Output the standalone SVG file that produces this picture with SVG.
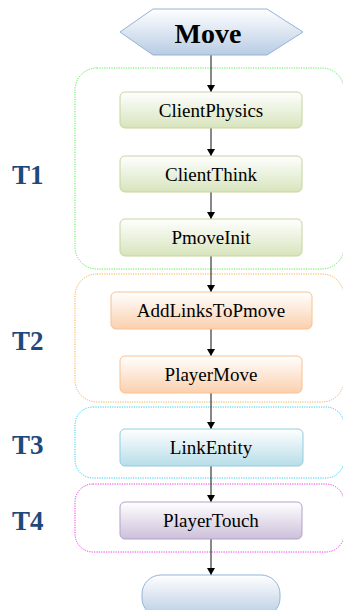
<svg xmlns="http://www.w3.org/2000/svg" width="343" height="610" viewBox="0 0 343 610">
<defs>
<linearGradient id="gBlue" x1="0" y1="0" x2="0" y2="1"><stop offset="0" stop-color="#ffffff"/><stop offset="1" stop-color="#b8cce4"/></linearGradient>
<linearGradient id="gGreen" x1="0" y1="0" x2="0" y2="1"><stop offset="0" stop-color="#ffffff"/><stop offset="1" stop-color="#d7e4bc"/></linearGradient>
<linearGradient id="gOrange" x1="0" y1="0" x2="0" y2="1"><stop offset="0" stop-color="#ffffff"/><stop offset="1" stop-color="#fbd0ad"/></linearGradient>
<linearGradient id="gCyan" x1="0" y1="0" x2="0" y2="1"><stop offset="0" stop-color="#ffffff"/><stop offset="1" stop-color="#b7dde8"/></linearGradient>
<linearGradient id="gPurple" x1="0" y1="0" x2="0" y2="1"><stop offset="0" stop-color="#ffffff"/><stop offset="1" stop-color="#ccc0da"/></linearGradient>
<marker id="arr" markerWidth="8" markerHeight="8" refX="7" refY="4" orient="auto" markerUnits="userSpaceOnUse"><path d="M0,0 L7,4 L0,8 Z" fill="#000"/></marker>
</defs>
<style>
.grp{fill:none;stroke-width:1;stroke-dasharray:1.2,1.2}
.box{stroke-width:1}
.lbl{font-family:'Liberation Serif','Times New Roman',serif;font-size:19px;fill:#000;text-anchor:middle}
.tl{font-family:'Liberation Serif','Times New Roman',serif;font-size:27px;font-weight:bold;fill:#1f497d}
.conn{stroke:#111;stroke-width:1;fill:none;marker-end:url(#arr)}
</style>
<g id="groups">
<rect id="grpT1" class="grp" x="75" y="68" width="269" height="201" rx="22" stroke="#55ee55"/>
<rect id="grpT2" class="grp" x="75" y="274" width="269" height="128" rx="22" stroke="#f9b040"/>
<rect id="grpT3" class="grp" x="75" y="407" width="269" height="71" rx="18" stroke="#33ccee"/>
<rect id="grpT4" class="grp" x="75" y="484" width="269" height="68" rx="18" stroke="#ee33ee"/>
</g>
<g id="tlabels">
<text class="tl" x="12" y="184">T1</text>
<text class="tl" x="12" y="350">T2</text>
<text class="tl" x="12" y="454">T3</text>
<text class="tl" x="12" y="530">T4</text>
</g>
<g id="connectors">
<line class="conn" x1="211" y1="55" x2="211" y2="92"/>
<line class="conn" x1="211" y1="128" x2="211" y2="156"/>
<line class="conn" x1="211" y1="192" x2="211" y2="219"/>
<line class="conn" x1="211" y1="256" x2="211" y2="292"/>
<line class="conn" x1="211" y1="329" x2="211" y2="356"/>
<line class="conn" x1="211" y1="393" x2="211" y2="429"/>
<line class="conn" x1="211" y1="466" x2="211" y2="502"/>
<line class="conn" x1="211" y1="539" x2="211" y2="575"/>
</g>
<g id="move">
<polygon points="120,32 153,9 267,9 303,32 267,55 153,55" fill="url(#gBlue)" stroke="#95b3d7" stroke-width="1"/>
<text x="208" y="43" style="font-family:'Liberation Serif','Times New Roman',serif;font-size:28px;font-weight:bold;text-anchor:middle;fill:#000">Move</text>
</g>
<g id="clientPhysics">
<rect class="box" x="120" y="92" width="182" height="36" rx="5" fill="url(#gGreen)" stroke="#c3d69b"/>
<text class="lbl" x="211" y="117">ClientPhysics</text>
</g>
<g id="clientThink">
<rect class="box" x="120" y="156" width="182" height="36" rx="5" fill="url(#gGreen)" stroke="#c3d69b"/>
<text class="lbl" x="211" y="181">ClientThink</text>
</g>
<g id="pmoveInit">
<rect class="box" x="120" y="219" width="182" height="37" rx="5" fill="url(#gGreen)" stroke="#c3d69b"/>
<text class="lbl" x="211" y="244">PmoveInit</text>
</g>
<g id="addLinksToPmove">
<rect class="box" x="111" y="292" width="201" height="37" rx="5" fill="url(#gOrange)" stroke="#fac090"/>
<text class="lbl" x="211" y="317">AddLinksToPmove</text>
</g>
<g id="playerMove">
<rect class="box" x="120" y="356" width="182" height="37" rx="5" fill="url(#gOrange)" stroke="#fac090"/>
<text class="lbl" x="211" y="381">PlayerMove</text>
</g>
<g id="linkEntity">
<rect class="box" x="120" y="429" width="183" height="37" rx="5" fill="url(#gCyan)" stroke="#93cddd"/>
<text class="lbl" x="211" y="454">LinkEntity</text>
</g>
<g id="playerTouch">
<rect class="box" x="120" y="502" width="182" height="37" rx="5" fill="url(#gPurple)" stroke="#b3a2c7"/>
<text class="lbl" x="211" y="527">PlayerTouch</text>
</g>
<g id="end">
<rect x="142" y="575" width="138" height="42" rx="19" fill="url(#gBlue)" stroke="#95b3d7" stroke-width="1"/>
</g>
</svg>
